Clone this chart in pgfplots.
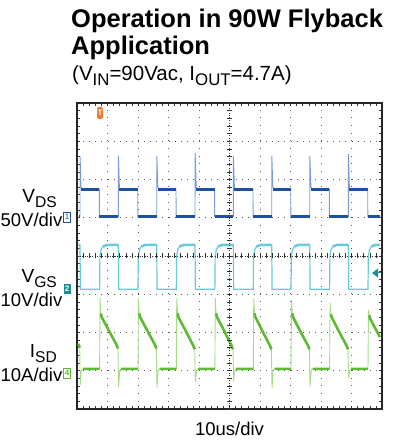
\documentclass[border=0pt]{standalone}
\usepackage{pgfplots}
\pgfplotsset{compat=1.18}
\usepackage{fontspec}
\setmainfont{Liberation Sans}
\definecolor{chA}{RGB}{32,80,160}
\definecolor{chAl}{RGB}{120,155,215}
\definecolor{chB}{RGB}{105,202,218}
\definecolor{chC}{RGB}{95,185,55}
\definecolor{chCl}{RGB}{165,220,135}
\definecolor{tealm}{RGB}{30,140,150}
\definecolor{trig}{RGB}{240,120,50}
\newcommand\sub[1]{\raisebox{-0.24em}{\scalebox{0.82}{#1}}}

\begin{document}
\begin{tikzpicture}[x=1bp,y=1bp]
\begin{axis}[
  at={(77bp,31bp)}, anchor=south west,
  width=305bp, height=306bp, scale only axis,
  xmin=0, xmax=10, ymin=-4, ymax=4,
  xtick={0,...,10}, ytick={-4,...,4},
  minor x tick num=4, minor y tick num=4,
  xticklabels={}, yticklabels={},
  tick align=inside,
  major tick length=3bp, minor tick length=3bp,
  tick style={black!80, line width=0.6bp},
  grid=major,
  major x grid style={black!65, line width=0.8bp, dash pattern=on 0.8bp off 6.85bp},
  major y grid style={black!65, line width=0.8bp, dash pattern=on 0.8bp off 5.3bp},
  axis line style={black!85, line width=2bp},
  unbounded coords=jump,
]
% CH1 V_DS, thin edges
\addplot[chAl, line width=0.9bp] coordinates {
(0.06,1.03) (0.098,1.03) (0.102,2.60) (0.13,1.80) (0.17,1.75) (0.731,1.75) (0.735,1.03)
(1.354,1.03) (1.358,2.62) (1.39,1.80) (1.43,1.75) (1.990,1.75) (1.994,1.03)
(2.613,1.03) (2.617,2.62) (2.65,1.80) (2.69,1.75) (3.246,1.75) (3.250,1.03)
(3.869,1.03) (3.873,2.70) (3.91,1.80) (3.95,1.75) (4.510,1.75) (4.514,1.03)
(5.125,1.03) (5.129,2.62) (5.16,1.80) (5.20,1.75) (5.770,1.75) (5.774,1.03)
(6.384,1.03) (6.388,2.62) (6.42,1.80) (6.46,1.75) (7.007,1.75) (7.011,1.03)
(7.630,1.03) (7.634,2.62) (7.67,1.80) (7.71,1.75) (8.272,1.75) (8.276,1.03)
(8.895,1.03) (8.899,2.66) (8.93,1.80) (8.97,1.75) (9.531,1.75) (9.535,1.03)
(9.930,1.03)
};
% CH1 noisy flats
\addplot[chA, line width=3bp] coordinates {
(0.06,1.03) (0.098,1.03) (0.1,nan)
(0.14,1.75) (0.731,1.75) (0.733,nan) (0.735,1.03) (1.354,1.03) (1.356,nan)
(1.39,1.75) (1.990,1.75) (1.992,nan) (1.994,1.03) (2.613,1.03) (2.615,nan)
(2.65,1.75) (3.246,1.75) (3.248,nan) (3.250,1.03) (3.869,1.03) (3.871,nan)
(3.91,1.75) (4.510,1.75) (4.512,nan) (4.514,1.03) (5.125,1.03) (5.127,nan)
(5.16,1.75) (5.770,1.75) (5.772,nan) (5.774,1.03) (6.384,1.03) (6.386,nan)
(6.42,1.75) (7.007,1.75) (7.009,nan) (7.011,1.03) (7.630,1.03) (7.632,nan)
(7.67,1.75) (8.272,1.75) (8.274,nan) (8.276,1.03) (8.895,1.03) (8.897,nan)
(8.93,1.75) (9.531,1.75) (9.533,nan) (9.535,1.03) (9.930,1.03)
};
% CH2 V_GS
\addplot[chB, line width=1.2bp] coordinates {
(0.05,0.29) (0.098,0.29) (0.11,-0.87)
(0.741,-0.87) (0.751,0.0) (0.791,0.17) (0.851,0.25) (0.981,0.29) (1.354,0.29) (1.366,-0.87)
(2.000,-0.87) (2.010,0.0) (2.050,0.17) (2.110,0.25) (2.240,0.29) (2.613,0.29) (2.625,-0.87)
(3.256,-0.87) (3.266,0.0) (3.306,0.17) (3.366,0.25) (3.496,0.29) (3.869,0.29) (3.881,-0.87)
(4.520,-0.87) (4.530,0.0) (4.570,0.17) (4.630,0.25) (4.760,0.29) (5.125,0.29) (5.137,-0.87)
(5.780,-0.87) (5.790,0.0) (5.830,0.17) (5.890,0.25) (6.020,0.29) (6.384,0.29) (6.396,-0.87)
(7.017,-0.87) (7.027,0.0) (7.067,0.17) (7.127,0.25) (7.257,0.29) (7.630,0.29) (7.642,-0.87)
(8.282,-0.87) (8.292,0.0) (8.332,0.17) (8.392,0.25) (8.522,0.29) (8.895,0.29) (8.907,-0.87)
(9.541,-0.87) (9.551,0.0) (9.591,0.17) (9.651,0.25) (9.781,0.29) (9.930,0.29)
};
% CH2 noisy high level
\addplot[chB, line width=2.6bp] coordinates {
(0.05,0.29) (0.098,0.29) (0.1,nan)
(0.851,0.25) (0.981,0.29) (1.354,0.29) (1.36,nan)
(2.110,0.25) (2.240,0.29) (2.613,0.29) (2.62,nan)
(3.366,0.25) (3.496,0.29) (3.869,0.29) (3.875,nan)
(4.630,0.25) (4.760,0.29) (5.125,0.29) (5.13,nan)
(5.890,0.25) (6.020,0.29) (6.384,0.29) (6.39,nan)
(7.127,0.25) (7.257,0.29) (7.630,0.29) (7.635,nan)
(8.392,0.25) (8.522,0.29) (8.895,0.29) (8.9,nan)
(9.651,0.25) (9.781,0.29) (9.930,0.29)
};
% CH4 I_SD, thin edges
\addplot[chCl, line width=0.9bp] coordinates {
(0.05,-2.30) (0.09,-2.40) (0.105,-3.38) (0.14,-3.0) (0.20,-2.95)
(0.741,-2.95) (0.756,-1.10) (0.78,-1.50) (0.811,-1.60) (1.031,-1.93) (1.301,-2.33) (1.344,-2.42) (1.364,-3.42) (1.40,-3.0) (1.45,-2.95)
(2.000,-2.95) (2.015,-1.12) (2.04,-1.50) (2.07,-1.60) (2.29,-1.93) (2.56,-2.33) (2.603,-2.42) (2.623,-3.44) (2.66,-3.0) (2.71,-2.95)
(3.256,-2.95) (3.271,-1.10) (3.30,-1.50) (3.326,-1.60) (3.546,-1.93) (3.816,-2.35) (3.859,-2.44) (3.879,-3.30) (3.92,-3.0) (3.97,-2.95)
(4.520,-2.95) (4.535,-1.10) (4.56,-1.50) (4.59,-1.60) (4.81,-1.93) (5.07,-2.35) (5.115,-2.44) (5.135,-3.28) (5.17,-3.0) (5.22,-2.95)
(5.780,-2.95) (5.795,-1.10) (5.82,-1.50) (5.85,-1.60) (6.07,-1.95) (6.33,-2.35) (6.374,-2.44) (6.394,-3.45) (6.43,-3.0) (6.48,-2.95)
(7.017,-2.95) (7.032,-1.15) (7.06,-1.50) (7.087,-1.60) (7.307,-1.95) (7.577,-2.35) (7.62,-2.44) (7.64,-3.40) (7.68,-3.0) (7.73,-2.95)
(8.282,-2.95) (8.297,-1.23) (8.32,-1.52) (8.352,-1.60) (8.572,-1.95) (8.842,-2.35) (8.885,-2.44) (8.905,-3.20) (8.94,-3.0) (8.99,-2.95)
(9.541,-2.95) (9.556,-1.41) (9.58,-1.55) (9.61,-1.64) (9.93,-2.12)
};
% CH4 noisy bands
\addplot[chC, line width=2.6bp] coordinates {
(0.05,-2.30) (0.09,-2.40) (0.095,nan)
(0.20,-2.95) (0.741,-2.95) (0.745,nan) (0.78,-1.50) (0.811,-1.60) (1.031,-1.93) (1.301,-2.33) (1.344,-2.42) (1.35,nan)
(1.45,-2.95) (2.000,-2.95) (2.005,nan) (2.04,-1.50) (2.07,-1.60) (2.29,-1.93) (2.56,-2.33) (2.603,-2.42) (2.61,nan)
(2.71,-2.95) (3.256,-2.95) (3.26,nan) (3.30,-1.50) (3.326,-1.60) (3.546,-1.93) (3.816,-2.35) (3.859,-2.44) (3.865,nan)
(3.97,-2.95) (4.520,-2.95) (4.525,nan) (4.56,-1.50) (4.59,-1.60) (4.81,-1.93) (5.07,-2.35) (5.115,-2.44) (5.12,nan)
(5.22,-2.95) (5.780,-2.95) (5.785,nan) (5.82,-1.50) (5.85,-1.60) (6.07,-1.95) (6.33,-2.35) (6.374,-2.44) (6.38,nan)
(6.48,-2.95) (7.017,-2.95) (7.02,nan) (7.06,-1.50) (7.087,-1.60) (7.307,-1.95) (7.577,-2.35) (7.62,-2.44) (7.625,nan)
(7.73,-2.95) (8.282,-2.95) (8.285,nan) (8.32,-1.52) (8.352,-1.60) (8.572,-1.95) (8.842,-2.35) (8.885,-2.44) (8.89,nan)
(8.99,-2.95) (9.541,-2.95) (9.545,nan) (9.58,-1.55) (9.61,-1.64) (9.93,-2.12)
};
\end{axis}
% centre cross with ticks
\draw[black!80, line width=0.7bp, dash pattern=on 1bp off 1.5bp] (77,184) -- (382,184);
\draw[black!80, line width=0.7bp, dash pattern=on 1bp off 1.5bp] (229.5,31) -- (229.5,337);
\foreach \i in {0,...,50} {\draw[black!80, line width=0.6bp] (77+6.1*\i,181.5) -- ++(0,5);}
\foreach \i in {0,...,40} {\draw[black!80, line width=0.6bp] (227,31+7.65*\i) -- ++(5,0);}
% titles
\node[anchor=base west, inner sep=0, font=\fontsize{25.5bp}{27bp}\selectfont\bfseries] at (71,412) {Operation in 90W Flyback};
\node[anchor=base west, inner sep=0, font=\fontsize{25.5bp}{27bp}\selectfont\bfseries] at (71,385) {Application};
\node[anchor=base west, inner sep=0, font=\fontsize{20.5bp}{22bp}\selectfont] at (72,359) {(V\sub{IN}=90Vac, I\sub{OUT}=4.7A)};
% channel labels
\node[anchor=base east, inner sep=0, font=\fontsize{19bp}{21bp}\selectfont] at (57,237) {V\sub{DS}};
\node[anchor=base east, inner sep=0, font=\fontsize{18.5bp}{21bp}\selectfont] at (62.5,213) {50V/div};
\node[anchor=base east, inner sep=0, font=\fontsize{19bp}{21bp}\selectfont] at (57,157) {V\sub{GS}};
\node[anchor=base east, inner sep=0, font=\fontsize{18.5bp}{21bp}\selectfont] at (62.5,133) {10V/div};
\node[anchor=base east, inner sep=0, font=\fontsize{19bp}{21bp}\selectfont] at (57,82) {I\sub{SD}};
\node[anchor=base east, inner sep=0, font=\fontsize{18.5bp}{21bp}\selectfont] at (62.5,58) {10A/div};
\node[anchor=base, inner sep=0, font=\fontsize{18.5bp}{20bp}\selectfont] at (229.5,4) {10us/div};
% channel markers
\node[draw=chA, line width=0.6bp, fill=white, text=chA, inner sep=0.5bp, minimum width=7bp, minimum height=10bp, font=\fontsize{8bp}{8bp}\selectfont] at (67,223) {1};
\node[fill=tealm, text=white, inner sep=0.5bp, minimum width=7bp, minimum height=10bp, font=\fontsize{8bp}{8bp}\selectfont\bfseries] at (67,151) {2};
\node[draw=chC, line width=0.8bp, fill=white, text=chC, inner sep=0.5bp, minimum width=7bp, minimum height=10bp, font=\fontsize{8bp}{8bp}\selectfont\bfseries] at (67,67) {4};
% trigger markers
\node[fill=trig, text=white, rounded corners=1.5bp, inner sep=0.3bp, minimum width=6bp, minimum height=12bp, font=\fontsize{8bp}{8bp}\selectfont\bfseries] at (100,327) {T};
\fill[tealm] (372,167) -- (378,171.5) -- (378,162.5) -- cycle;
\draw[tealm, line width=1bp] (376,167) -- (381,167);
\pgfresetboundingbox
\path[use as bounding box] (0,0) rectangle (402,440);
\end{tikzpicture}
\end{document}
